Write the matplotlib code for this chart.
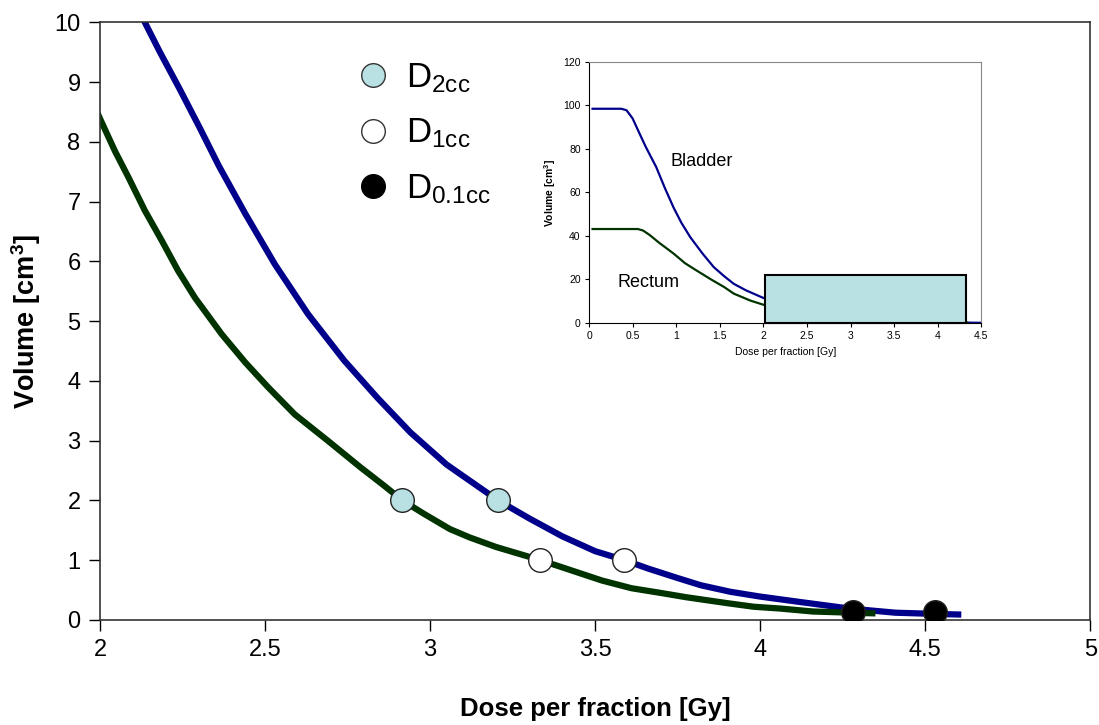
import matplotlib
matplotlib.use("Agg")
import matplotlib.pyplot as plt
from matplotlib.lines import Line2D
from matplotlib.patches import Rectangle

plt.rcParams['font.family'] = ['Liberation Sans', 'DejaVu Sans']
plt.rcParams['mathtext.fontset'] = 'custom'
plt.rcParams['mathtext.rm'] = 'Liberation Sans'
plt.rcParams['mathtext.it'] = 'Liberation Sans'
plt.rcParams['mathtext.bf'] = 'Liberation Sans:bold'

# cumulative DVH, dose per fraction [Gy] vs volume [cm3]
bladder_dose = [0.04, 0.37, 0.43, 0.50, 0.58, 0.65, 0.77, 0.87, 0.97, 1.06, 1.16, 1.30,
                1.43, 1.55, 1.66, 1.80, 2.00, 2.136, 2.18, 2.24, 2.30, 2.36, 2.44,
                2.53, 2.63, 2.74, 2.84, 2.94, 3.05, 3.206, 3.30, 3.40, 3.50, 3.589,
                3.66, 3.75, 3.82, 3.91, 4.00, 4.12, 4.27, 4.41, 4.53, 4.60]
bladder_vol = [98.5, 98.5, 97.8, 94.0, 87.0, 81.0, 71.7, 62.0, 53.0, 46.0, 39.5, 32.0,
               25.7, 21.5, 18.0, 15.0, 11.5, 10.0, 9.52, 8.90, 8.26, 7.60, 6.80,
               5.95, 5.12, 4.34, 3.72, 3.14, 2.60, 2.00, 1.70, 1.40, 1.15, 1.00,
               0.86, 0.70, 0.58, 0.47, 0.39, 0.30, 0.19, 0.12, 0.10, 0.09]

rectum_dose = [0.04, 0.56, 0.62, 0.70, 0.80, 0.97, 1.10, 1.23, 1.40, 1.55, 1.66, 1.85,
               2.00, 2.045, 2.086, 2.136, 2.187, 2.237, 2.288, 2.369, 2.44, 2.51, 2.59,
               2.69, 2.79, 2.86, 2.916, 2.98, 3.06, 3.12, 3.20, 3.334, 3.40, 3.52, 3.61,
               3.70, 3.775, 3.90, 3.98, 4.06, 4.16, 4.34]
rectum_vol = [43.2, 43.2, 42.5, 40.3, 37.0, 31.9, 27.5, 24.2, 20.0, 16.5, 13.5, 10.3,
              8.39, 7.85, 7.41, 6.85, 6.35, 5.84, 5.39, 4.78, 4.31, 3.89, 3.44,
              3.00, 2.55, 2.25, 2.00, 1.78, 1.52, 1.38, 1.22, 1.00, 0.88, 0.66, 0.53,
              0.45, 0.38, 0.28, 0.22, 0.19, 0.14, 0.11]

# dose-volume points (rectum, bladder)
d2cc_dose = [2.916, 3.206]
d2cc_vol = [2.0, 2.0]
d1cc_dose = [3.334, 3.589]
d1cc_vol = [1.0, 1.0]
d01cc_dose = [4.28, 4.53]
d01cc_vol = [0.14, 0.14]

# zoomed region shown in the inset
zoom_x0, zoom_x1, zoom_y1 = 2.02, 4.32, 22

blue = '#00008b'
green = '#003300'
light = '#b9e0e3'

fig = plt.figure(figsize=(10.99, 7.25), dpi=100)
ax = fig.add_axes([0.091, 0.145, 0.901, 0.824])

ax.plot(bladder_dose, bladder_vol, color=blue, lw=4.5, solid_joinstyle='round')
ax.plot(rectum_dose, rectum_vol, color=green, lw=4.5, solid_joinstyle='round')

mk = dict(ls='none', marker='o', ms=17, mec='#222222', mew=1, zorder=5)
ax.plot(d2cc_dose, d2cc_vol, mfc=light, **mk)
ax.plot(d1cc_dose, d1cc_vol, mfc='white', **mk)
ax.plot(d01cc_dose, d01cc_vol, mfc='black', **mk)

ax.set_xlim(2, 5)
ax.set_ylim(0, 10)
ax.set_xticks([2, 2.5, 3, 3.5, 4, 4.5, 5])
ax.set_xticklabels(['2', '2.5', '3', '3.5', '4', '4.5', '5'])
ax.set_yticks(range(0, 11))
ax.tick_params(direction='out', length=8, width=1, labelsize=17, pad=6)
for s in ax.spines.values():
    s.set_color('#333333')
    s.set_linewidth(1.2)
ax.set_xlabel('Dose per fraction [Gy]', fontsize=18.5, fontweight='bold', labelpad=26)
ax.set_ylabel(r'Volume [cm$^{\mathbf{3}}$]', fontsize=19.5, fontweight='bold', labelpad=8)

handles = [
    Line2D([], [], ls='none', marker='o', ms=17, mfc=light, mec='#333333', mew=1),
    Line2D([], [], ls='none', marker='o', ms=17, mfc='white', mec='#333333', mew=1),
    Line2D([], [], ls='none', marker='o', ms=17, mfc='black', mec='black', mew=1),
]
labels = [r'D$_{\mathrm{2cc}}$', r'D$_{\mathrm{1cc}}$', r'D$_{\mathrm{0.1cc}}$']
ax.legend(handles, labels, loc='upper left', bbox_to_anchor=(0.244, 0.958), frameon=False,
          fontsize=25, handletextpad=0.45, labelspacing=0.62, handlelength=1.0,
          borderaxespad=0)

# inset with the full DVH
ins = fig.add_axes([0.536, 0.5545, 0.357, 0.36])
ins.plot(bladder_dose, bladder_vol, color=blue, lw=1.6)
ins.plot(rectum_dose, rectum_vol, color=green, lw=1.6)
ins.add_patch(Rectangle((zoom_x0, 0), zoom_x1 - zoom_x0, zoom_y1, facecolor=light,
                        edgecolor='black', lw=1.5, zorder=4, clip_on=False))
ins.set_xlim(0, 4.5)
ins.set_ylim(0, 120)
ins.set_xticks([0, 0.5, 1, 1.5, 2, 2.5, 3, 3.5, 4, 4.5])
ins.set_xticklabels(['0', '0.5', '1', '1.5', '2', '2.5', '3', '3.5', '4', '4.5'])
ins.set_yticks(range(0, 121, 20))
ins.tick_params(direction='out', length=3, width=0.8, labelsize=7.5, pad=3)
ins.spines['top'].set_color('#888888')
ins.spines['right'].set_color('#888888')
ins.set_xlabel('Dose per fraction [Gy]', fontsize=7.5, labelpad=4)
ins.set_ylabel(r'Volume [cm$^{\mathbf{3}}$]', fontsize=7.5, fontweight='bold', labelpad=4)
ins.text(0.93, 72, 'Bladder', fontsize=13)
ins.text(0.33, 16.5, 'Rectum', fontsize=13)

fig.savefig('out.png', dpi=100)
